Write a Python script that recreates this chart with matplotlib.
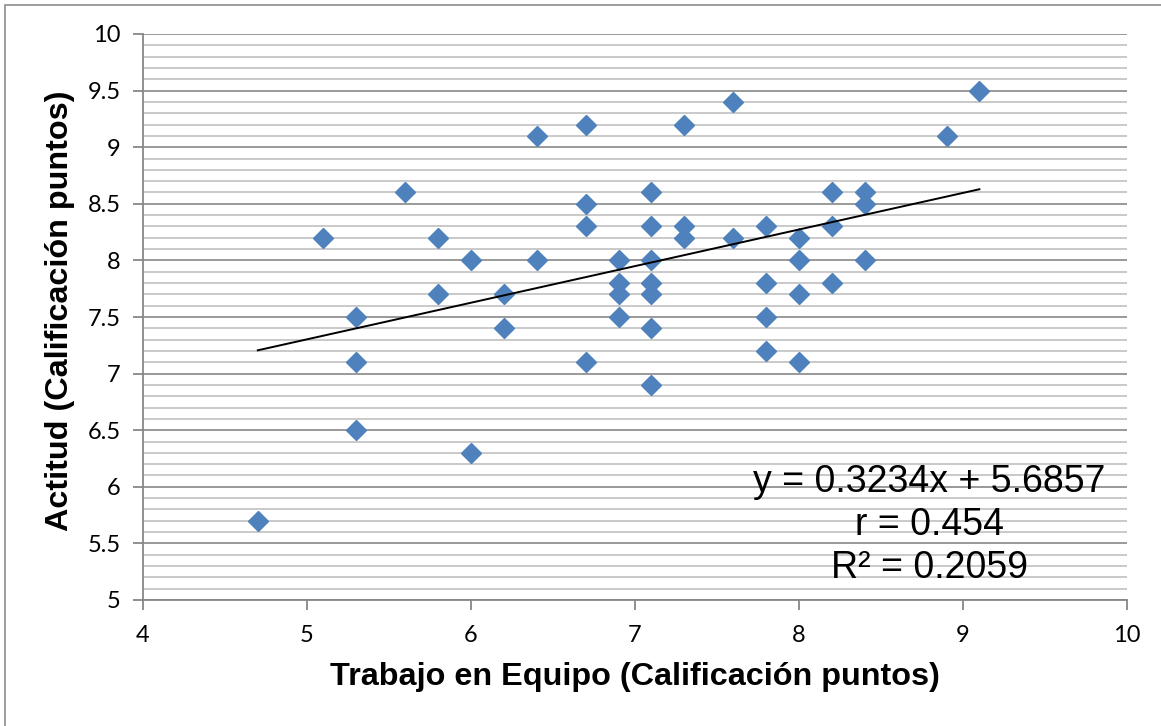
import numpy as np
import matplotlib.pyplot as plt
import matplotlib.patches as patches
from matplotlib.ticker import MultipleLocator

# Trabajo en Equipo vs Actitud (calificación puntos)
trabajo = [4.7, 5.1, 5.3, 5.3, 5.3, 5.6, 5.8, 5.8, 6.0, 6.0,
           6.2, 6.2, 6.4, 6.4, 6.7, 6.7, 6.7, 6.7, 6.9, 6.9,
           6.9, 6.9, 7.1, 7.1, 7.1, 7.1, 7.1, 7.1, 7.1, 7.3,
           7.3, 7.3, 7.6, 7.6, 7.8, 7.8, 7.8, 7.8, 8.0, 8.0,
           8.0, 8.0, 8.2, 8.2, 8.2, 8.4, 8.4, 8.4, 8.9, 9.1]
actitud = [5.7, 8.2, 7.5, 7.1, 6.5, 8.6, 8.2, 7.7, 8.0, 6.3,
           7.7, 7.4, 9.1, 8.0, 9.2, 8.5, 8.3, 7.1, 8.0, 7.8,
           7.7, 7.5, 8.6, 8.3, 8.0, 7.8, 7.7, 7.4, 6.9, 9.2,
           8.3, 8.2, 9.4, 8.2, 8.3, 7.8, 7.5, 7.2, 8.2, 8.0,
           7.7, 7.1, 8.6, 8.3, 7.8, 8.6, 8.5, 8.0, 9.1, 9.5]

pendiente = 0.3234
intercepto = 5.6857
r_valor = 0.454
r2_valor = 0.2059

fig = plt.figure(figsize=(11.61, 7.26), dpi=100)
ax = fig.add_axes([143/1161, 1-600/726, (1127-143)/1161, (600-34)/726])

# borde del gráfico (estilo Excel)
fig.patches.append(patches.Rectangle((5/1161, -0.1), 1.2, 1-5/726+0.1,
                                     transform=fig.transFigure, fill=False,
                                     edgecolor='#8c8c8c', lw=1.2))

ax.set_xlim(4, 10)
ax.set_ylim(5, 10)
ax.yaxis.set_major_locator(MultipleLocator(0.5))
ax.yaxis.set_minor_locator(MultipleLocator(0.1))
ax.xaxis.set_major_locator(MultipleLocator(1))

ax.grid(True, axis='y', which='major', color='#878787', lw=1.2, zorder=0)
ax.grid(True, axis='y', which='minor', color='#c0c0c0', lw=1.2, zorder=0)
ax.set_axisbelow(True)

for s in ['top', 'right']:
    ax.spines[s].set_visible(False)
for s in ['left', 'bottom']:
    ax.spines[s].set_color('#878787')
    ax.spines[s].set_linewidth(1.3)

ax.tick_params(which='major', direction='out', length=7, width=1.3,
               color='#878787', labelsize=17, pad=9)
ax.tick_params(axis='x', pad=11)
ax.tick_params(which='minor', length=0)
ax.set_yticks(np.arange(5, 10.01, 0.5))
ax.set_yticklabels(['5', '5.5', '6', '6.5', '7', '7.5', '8', '8.5', '9', '9.5', '10'],
                   family='Lato')
ax.set_xticks(range(4, 11))
ax.set_xticklabels([str(v) for v in range(4, 11)], family='Lato')

ax.plot(trabajo, actitud, ls='none', marker='D', ms=10.5,
        color='#4F81BD', mec='#4F81BD', zorder=3, clip_on=False)

# línea de tendencia
xt = np.array([min(trabajo), max(trabajo)])
ax.plot(xt, pendiente*xt + intercepto, color='black', lw=1.4, zorder=4)

fuente = dict(family='Liberation Sans', fontsize=27, ha='center', va='baseline', zorder=5)
ax.text(8.796, 5.95, f'y = {pendiente}x + {intercepto}', **fuente)
ax.text(8.796, 5.575, f'r = {r_valor}', **fuente)
ax.text(8.796, 5.19, f'R² = {r2_valor}', **fuente)

fig.text(635/1161, 1-677/726, 'Trabajo en Equipo (Calificación puntos)',
         family='Liberation Sans', weight='bold', fontsize=23.3,
         ha='center', va='center')
fig.text(60/1161, 1-311/726, 'Actitud (Calificación puntos)',
         family='Liberation Sans', weight='bold', fontsize=23.3,
         ha='center', va='center', rotation=90)

fig.savefig('out.png', dpi=100)
